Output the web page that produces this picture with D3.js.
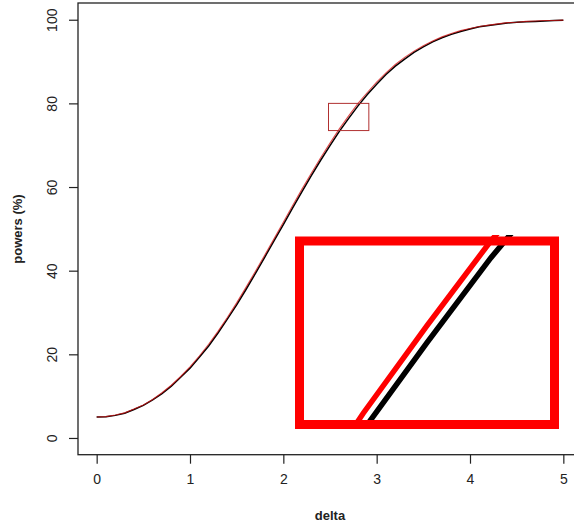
<!DOCTYPE html>
<html>
<head>
<meta charset="utf-8">
<script src="https://cdn.jsdelivr.net/npm/d3@7"></script>
<style>
    body { margin: 0; background: #fff; }
    text { font-family: "Liberation Sans", Arial, sans-serif; fill: #222; }
</style>
</head>
<body>
<svg id="chart" width="574" height="527"></svg>
<script>
// delta grid, step 0.1
var deltas = d3.range(0, 51).map(function (i) { return i / 10; });

// powers (%), red curve
var powerRed = [
    5.0, 5.1, 5.5, 6.0, 6.9, 7.9, 9.2, 10.8, 12.6, 14.7,
    17.0, 19.6, 22.4, 25.5, 28.8, 32.3, 36.0, 39.8, 43.7, 47.6,
    51.6, 55.6, 59.5, 63.3, 67.0, 70.5, 73.9, 77.0, 80.0, 82.6,
    85.1, 87.3, 89.3, 91.0, 92.5, 93.8, 94.9, 95.9, 96.7, 97.4,
    97.9, 98.4, 98.7, 99.0, 99.3, 99.4, 99.6, 99.7, 99.8, 99.8,
    99.9
];

// black curve, slightly lower
var powerBlack = [
    5.0, 5.1, 5.4, 5.9, 6.8, 7.8, 9.1, 10.6, 12.4, 14.5,
    16.7, 19.3, 22.0, 25.1, 28.4, 31.8, 35.5, 39.3, 43.2, 47.1,
    51.0, 55.0, 58.9, 62.7, 66.4, 69.9, 73.3, 76.4, 79.4, 82.1,
    84.6, 86.9, 88.9, 90.6, 92.2, 93.5, 94.7, 95.7, 96.5, 97.2,
    97.8, 98.3, 98.6, 98.9, 99.2, 99.4, 99.5, 99.6, 99.7, 99.8,
    99.9
];

var xTicks = [0, 1, 2, 3, 4, 5];
var yTicks = [0, 20, 40, 60, 80, 100];

// zoom window (delta, powers)
var zoomX = [2.5, 2.9];
var zoomY = [73.5, 80];

var svg = d3.select("#chart");

var x = d3.scaleLinear().domain([-0.2, 5.2]).range([78, 582]);
var y = d3.scaleLinear().domain([-4, 104]).range([454.7, 3]);

// plot box
svg.append("rect")
    .attr("x", 78).attr("y", 3)
    .attr("width", 504).attr("height", 451.7)
    .attr("fill", "none").attr("stroke", "#222").attr("stroke-width", 1.3);

var xAxis = d3.axisBottom(x).tickValues(xTicks).tickFormat(d3.format("d"))
    .tickSize(9).tickPadding(10);
var gx = svg.append("g").attr("transform", "translate(0,454.7)").call(xAxis);
gx.select(".domain").remove();
gx.selectAll("line").attr("stroke", "#222").attr("stroke-width", 1.2);
gx.selectAll("text").style("font-size", "14px").attr("fill", "#222");

var yAxis = d3.axisLeft(y).tickValues(yTicks).tickSize(9).tickPadding(0);
var gy = svg.append("g").attr("transform", "translate(78,0)").call(yAxis);
gy.select(".domain").remove();
gy.selectAll("line").attr("stroke", "#222").attr("stroke-width", 1.2);
gy.selectAll("text")
    .style("font-size", "14px")
    .attr("fill", "#222")
    .attr("text-anchor", "middle")
    .attr("x", null)
    .attr("transform", "translate(-26,0) rotate(-90)")
    .attr("dy", "0.35em");

svg.append("text")
    .attr("x", 330).attr("y", 520)
    .attr("text-anchor", "middle")
    .style("font-size", "13px").style("font-weight", "bold")
    .text("delta");

svg.append("text")
    .attr("transform", "translate(22,229) rotate(-90)")
    .attr("text-anchor", "middle")
    .style("font-size", "13px").style("font-weight", "bold")
    .text("powers (%)");

var mainLine = function (vals) {
    return d3.line()
        .x(function (d, i) { return x(deltas[i]); })
        .y(function (d) { return y(d); })(vals);
};

svg.append("path").attr("d", mainLine(powerBlack))
    .attr("fill", "none").attr("stroke", "#000").attr("stroke-width", 1.5);
svg.append("path").attr("d", mainLine(powerRed))
    .attr("fill", "none").attr("stroke", "#d01010").attr("stroke-width", 1.1)
    .attr("stroke-opacity", 0.75);

// small window on the main plot
svg.append("rect")
    .attr("x", x(zoomX[0]) - 1.5).attr("y", y(zoomY[1]))
    .attr("width", x(zoomX[1]) - x(zoomX[0]) + 3)
    .attr("height", y(zoomY[0]) - y(zoomY[1]))
    .attr("fill", "none").attr("stroke", "#b03030").attr("stroke-width", 1);

// inset
var ix = d3.scaleLinear().domain(zoomX).range([299.5, 554.5]);
var iy = d3.scaleLinear().domain(zoomY).range([424.5, 241]);

svg.append("rect")
    .attr("x", 299.5).attr("y", 241)
    .attr("width", 255).attr("height", 183.5)
    .attr("fill", "#fff");

svg.append("clipPath").attr("id", "insetClip")
    .append("rect")
    .attr("x", 299.5).attr("y", 235)
    .attr("width", 255).attr("height", 189.5);

var insetLine = function (vals) {
    return d3.line()
        .x(function (d, i) { return ix(deltas[i]); })
        .y(function (d) { return iy(d); })(vals);
};

var gi = svg.append("g").attr("clip-path", "url(#insetClip)");
gi.append("path").attr("d", insetLine(powerBlack))
    .attr("fill", "none").attr("stroke", "#000").attr("stroke-width", 5.5);
gi.append("path").attr("d", insetLine(powerRed))
    .attr("fill", "none").attr("stroke", "#ff0000").attr("stroke-width", 5.5);

svg.append("rect")
    .attr("x", 299.5).attr("y", 241)
    .attr("width", 255).attr("height", 183.5)
    .attr("fill", "none").attr("stroke", "#ff0000").attr("stroke-width", 9);
</script>
</body>
</html>
